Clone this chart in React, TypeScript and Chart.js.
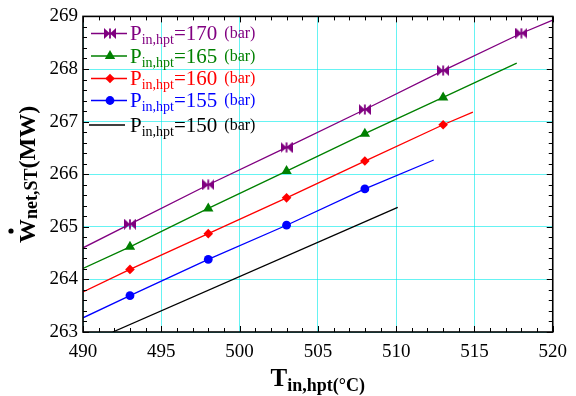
import React, { useEffect, useRef } from 'react';
import { Chart, registerables } from 'chart.js';
Chart.register(...registerables);

// ---- data ----
const xMin = 490, xMax = 520, xStep = 5;
const yMin = 263, yMax = 269, yStep = 1;

const p170X = [490, 493, 498, 503, 508, 513, 518, 520];
const p170Y = [264.6, 265.05, 265.8, 266.51, 267.23, 267.97, 268.68, 268.93];
const p165X = [490, 493, 498, 503, 508, 513, 517.7];
const p165Y = [264.21, 264.62, 265.35, 266.06, 266.77, 267.46, 268.11];
const p160X = [490, 493, 498, 503, 508, 513, 514.9];
const p160Y = [263.76, 264.19, 264.87, 265.55, 266.25, 266.94, 267.18];
const p155X = [490, 493, 498, 503, 508, 512.4];
const p155Y = [263.27, 263.69, 264.38, 265.03, 265.72, 266.27];
const p150X = [491.9, 510.1];
const p150Y = [263.0, 265.37];

const pressures = ['170', '165', '160', '155', '150'];
const colors = ['#800080', '#008000', '#ff0000', '#0000ff', '#000000'];
const markers = ['bowtie', 'triangle', 'rectRot', 'circle', 'none'];
const markerSizes = [5, 6, 4.8, 4.4, 0];

function makeBowtie(color: string) {
  const c = document.createElement('canvas');
  c.width = 12; c.height = 11;
  const g = c.getContext('2d')!;
  g.fillStyle = color;
  g.beginPath(); g.moveTo(0, 0); g.lineTo(6, 5.5); g.lineTo(0, 11); g.closePath(); g.fill();
  g.beginPath(); g.moveTo(12, 0); g.lineTo(6, 5.5); g.lineTo(12, 11); g.closePath(); g.fill();
  g.fillRect(5.1, 0.5, 1.8, 10);
  return c;
}

function drawMarker(ctx: CanvasRenderingContext2D, kind: string, x: number, y: number, color: string, bow: HTMLCanvasElement, r: number) {
  ctx.save();
  ctx.fillStyle = color;
  if (kind === 'bowtie') {
    ctx.drawImage(bow, x - bow.width / 2, y - bow.height / 2);
  } else if (kind === 'triangle') {
    ctx.beginPath();
    ctx.moveTo(x, y - r);
    ctx.lineTo(x + r * 0.866, y + r * 0.5);
    ctx.lineTo(x - r * 0.866, y + r * 0.5);
    ctx.closePath(); ctx.fill();
  } else if (kind === 'rectRot') {
    ctx.beginPath();
    ctx.moveTo(x, y - r); ctx.lineTo(x + r, y); ctx.lineTo(x, y + r); ctx.lineTo(x - r, y);
    ctx.closePath(); ctx.fill();
  } else if (kind === 'circle') {
    ctx.beginPath(); ctx.arc(x, y, r, 0, Math.PI * 2); ctx.fill();
  }
  ctx.restore();
}

const serif = '"Liberation Serif", "Times New Roman", serif';

export default function App() {
  const ref = useRef<HTMLCanvasElement>(null);
  useEffect(() => {
    const bows = colors.map(c => makeBowtie(c));
    const xs = [p170X, p165X, p160X, p155X, p150X];
    const ys = [p170Y, p165Y, p160Y, p155Y, p150Y];
    const datasets = xs.map((xa, i) => {
      const pts = xa.map((x, j) => ({ x, y: ys[i][j] }));
      const radii = xa.map((_, j) => (markers[i] === 'none' || j === 0 || j === xa.length - 1 ? 0 : markerSizes[i]));
      return {
        label: pressures[i],
        data: pts,
        borderColor: colors[i],
        backgroundColor: colors[i],
        borderWidth: 1.3,
        pointRadius: radii,
        pointHoverRadius: radii,
        pointStyle: markers[i] === 'bowtie' ? bows[i] : markers[i] === 'none' ? 'circle' : markers[i],
        pointBorderWidth: 0,
        fill: false,
        tension: 0,
      } as any;
    });

    const framePlugin = {
      id: 'frame',
      afterDatasetsDraw(chart: any) {
        const { ctx, chartArea: a, scales } = chart;
        const sx = scales.x, sy = scales.y;
        ctx.save();
        ctx.strokeStyle = '#000';
        ctx.lineWidth = 1;
        for (let v = xMin; v <= xMax + 1e-6; v += 1) {
          const px = Math.round(sx.getPixelForValue(v)) + 0.5;
          const len = (v - xMin) % xStep === 0 ? 6 : 4;
          ctx.beginPath();
          ctx.moveTo(px, a.bottom); ctx.lineTo(px, a.bottom - len);
          ctx.moveTo(px, a.top); ctx.lineTo(px, a.top + len);
          ctx.stroke();
        }
        for (let k = 0; k <= (yMax - yMin) * 5; k++) {
          const v = yMin + k * 0.2;
          const py = Math.round(sy.getPixelForValue(v)) + 0.5;
          const len = k % 5 === 0 ? 6 : 4;
          ctx.beginPath();
          ctx.moveTo(a.left, py); ctx.lineTo(a.left + len, py);
          ctx.moveTo(a.right, py); ctx.lineTo(a.right - len, py);
          ctx.stroke();
        }
        ctx.lineWidth = 1.6;
        ctx.strokeRect(a.left, a.top, a.right - a.left, a.bottom - a.top);

        // legend
        const lineYs = [33.5, 56, 78.5, 100.5, 125];
        const baseYs = [40, 62.5, 85, 107.3, 132];
        for (let i = 0; i < 5; i++) {
          const ly = lineYs[i];
          ctx.strokeStyle = colors[i];
          ctx.lineWidth = 1.3;
          ctx.beginPath();
          if (i < 4) { ctx.moveTo(91, ly); ctx.lineTo(127, ly); }
          else { ctx.moveTo(89, ly); ctx.lineTo(125, ly); }
          ctx.stroke();
          if (i < 4) drawMarker(ctx, markers[i], 110, ly, colors[i], bows[i], markerSizes[i]);
          ctx.fillStyle = colors[i];
          ctx.textBaseline = 'alphabetic';
          ctx.textAlign = 'left';
          let x = 130;
          const b = baseYs[i];
          ctx.font = `21px ${serif}`;
          ctx.fillText('P', x, b); x += ctx.measureText('P').width;
          ctx.font = `14px ${serif}`;
          ctx.fillText('in,hpt', x, b + 4); x += ctx.measureText('in,hpt').width;
          ctx.font = `21px ${serif}`;
          const eq = '=' + pressures[i];
          ctx.fillText(eq, x, b); x += ctx.measureText(eq).width + 7;
          ctx.font = `16px ${serif}`;
          ctx.fillText('(bar)', x, b - 2);
        }

        // x-axis title
        ctx.fillStyle = '#000';
        ctx.font = `bold 25px ${serif}`;
        ctx.fillText('T', 270.5, 385.5);
        const tw = ctx.measureText('T').width;
        ctx.font = `bold 18px ${serif}`;
        ctx.fillText('in,hpt(°C)', 270.5 + tw, 391);

        // y-axis title (rotated)
        ctx.save();
        ctx.translate(35, 243);
        ctx.rotate(-Math.PI / 2);
        ctx.font = `bold 24px ${serif}`;
        ctx.fillText('W', 0, 0);
        const ww = ctx.measureText('W').width;
        ctx.beginPath();
        ctx.arc(ww / 2, -24, 2.6, 0, Math.PI * 2);
        ctx.fill();
        ctx.font = `bold 18px ${serif}`;
        ctx.fillText('net,ST', ww, 2);
        const sw = ctx.measureText('net,ST').width;
        ctx.font = `bold 24px ${serif}`;
        ctx.fillText('(MW)', ww + sw, 0);
        ctx.restore();

        ctx.restore();
      },
    };

    const chart = new Chart(ref.current!, {
      type: 'line',
      data: { datasets },
      options: {
        animation: false,
        responsive: false,
        maintainAspectRatio: false,
        events: [],
        layout: { padding: { left: 0, right: 16, top: 16, bottom: 0 } },
        plugins: { legend: { display: false }, tooltip: { enabled: false }, title: { display: false } },
        scales: {
          x: {
            type: 'linear',
            min: xMin, max: xMax,
            afterFit: (s: any) => { s.height = 64; },
            ticks: { stepSize: xStep, color: '#000', padding: 9, font: { family: serif, size: 19 }, maxRotation: 0 },
            grid: { color: 'rgba(0,235,235,0.6)', lineWidth: 1, drawTicks: false },
            border: { display: false },
          },
          y: {
            type: 'linear',
            min: yMin, max: yMax,
            afterFit: (s: any) => { s.width = 83; },
            ticks: { stepSize: yStep, color: '#000', padding: 5, font: { family: serif, size: 19 } },
            grid: { color: 'rgba(0,235,235,0.6)', lineWidth: 1, drawTicks: false },
            border: { display: false },
          },
        },
      },
      plugins: [framePlugin],
    });
    return () => chart.destroy();
  }, []);
  return (
    <div style={{ position: 'fixed', left: 0, top: 0, width: 576, height: 396, background: '#fff' }}>
      <canvas ref={ref} width={576} height={396} style={{ width: 576, height: 396 }} />
    </div>
  );
}
